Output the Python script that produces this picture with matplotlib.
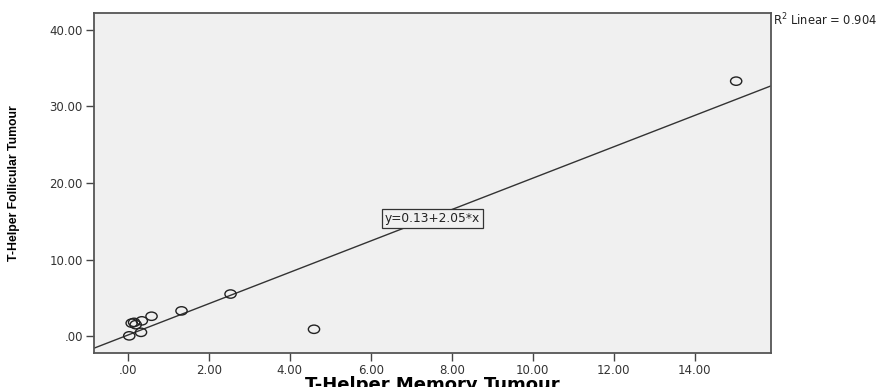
import numpy as np
import matplotlib
matplotlib.use("Agg")
import matplotlib.pyplot as plt
from matplotlib.markers import MarkerStyle
from matplotlib.transforms import Affine2D

plt.rcParams["font.family"] = ["DejaVu Sans"]

# T-Helper memory vs follicular (tumour)
memory = [0.04, 0.33, 0.59, 0.35, 0.10, 0.20, 0.16, 1.33, 2.54, 4.60, 15.02]
follicular = [0.04, 0.50, 2.60, 2.00, 1.70, 1.50, 1.80, 3.30, 5.50, 0.90, 33.30]

intercept = 0.13
slope = 2.05
r2 = 0.904

xticks = [0, 2, 4, 6, 8, 10, 12, 14]
yticks = [0, 10, 20, 30, 40]


def fmt(v):
    s = "%.2f" % v
    return s[1:] if s.startswith("0") else s


fig = plt.figure(figsize=(8.93, 3.87), dpi=100)
ax = fig.add_axes([94 / 893, 1 - 353 / 387, (771 - 94) / 893, (353 - 13) / 387])
ax.set_facecolor("#f0f0f0")

xlim = (-0.83, 15.88)
ylim = (-2.2, 42.2)

xs = np.array(xlim)
ax.plot(xs, intercept + slope * xs, color="#333333", lw=1.0, zorder=2)

marker = MarkerStyle("o", transform=Affine2D().scale(1.35, 1.0))
ax.scatter(memory, follicular, s=36, marker=marker, facecolors="none",
           edgecolors="#222222", linewidths=1.0, zorder=3)

ax.text(7.53, 15.4, "y=%.2f+%.2f*x" % (intercept, slope), ha="center", va="center",
        fontsize=8.8, color="#222222",
        bbox=dict(boxstyle="square,pad=0.25", fc="#f0f0f0", ec="#333333", lw=0.9))

ax.set_xlim(*xlim)
ax.set_ylim(*ylim)
ax.set_xticks(xticks)
ax.set_xticklabels([fmt(v) for v in xticks])
ax.set_yticks(yticks)
ax.set_yticklabels([fmt(v) for v in yticks])
ax.tick_params(direction="out", length=6, width=1, color="#444444",
               labelsize=8.5, labelcolor="#333333", pad=2)

for sp in ax.spines.values():
    sp.set_color("#555555")
    sp.set_linewidth(1.3)

ax.set_xlabel("T-Helper Memory Tumour", fontsize=13, fontweight="bold", labelpad=-1)
ax.set_ylabel("T-Helper Follicular Tumour", fontsize=8.8, fontweight="bold",
              family="Liberation Sans", labelpad=21)

fig.text(773 / 893, 1 - 20 / 387, "R$^2$ Linear = %.3f" % r2, fontsize=8.3,
         ha="left", va="center", color="#222222")

fig.savefig("out.png", dpi=100)
